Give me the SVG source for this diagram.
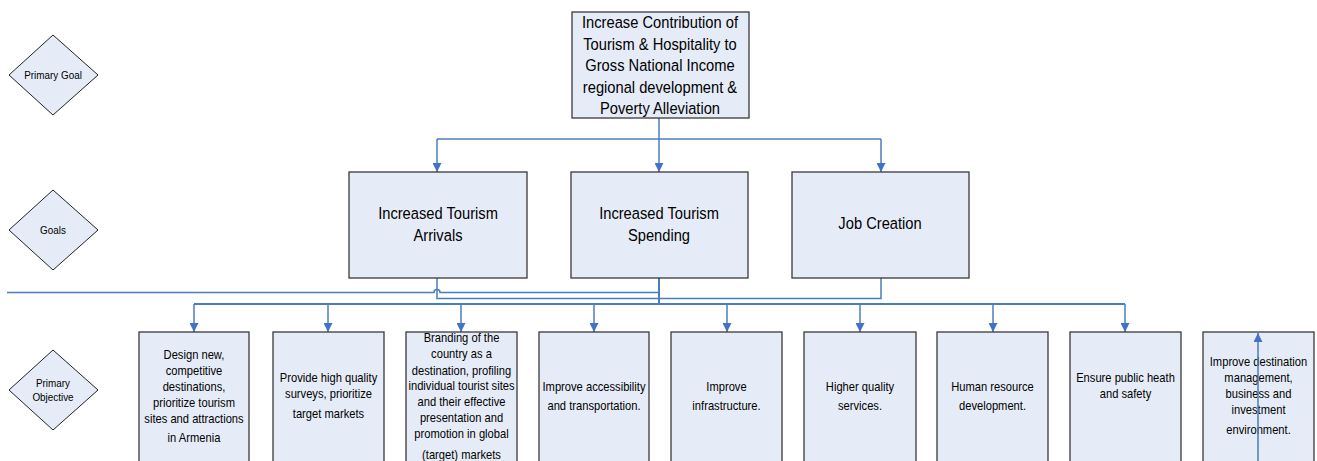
<svg xmlns="http://www.w3.org/2000/svg" width="1317" height="461" viewBox="0 0 1317 461">
<style>
.box{fill:#E6ECF7;stroke:#3a3a3a;stroke-width:1.3}
.dia{fill:#E6ECF7;stroke:#222;stroke-width:1}
.t{font-family:"Liberation Sans",Arial,sans-serif;fill:#000;text-anchor:middle}
.big{font-size:17px}
.sm{font-size:13px}
.dt{font-size:11.5px}
.c{fill:none;stroke:#4A7EBB;stroke-width:1.5}
.c2{fill:none;stroke:#4A7EBB;stroke-width:2}
.c1{fill:none;stroke:#4A7EBB;stroke-width:1.5}
</style>
<defs>
<marker id="arr" viewBox="0 0 10 10" refX="10" refY="5" markerWidth="10" markerHeight="9" orient="auto" markerUnits="userSpaceOnUse">
<path d="M0,0 L10,5 L0,10 z" fill="#4472C4"/>
</marker>
</defs>
<rect width="1317" height="461" fill="#fff"/>

<g id="lane-primary-goal">
<polygon class="dia" points="53,35 98,75 53,115 9,75"/>
<text class="t dt" transform="translate(53,0) scale(0.86,1)"><tspan x="0" y="79">Primary Goal</tspan></text>
</g>
<g id="lane-goals">
<polygon class="dia" points="53,190 98,230 53,270 9,230"/>
<text class="t dt" transform="translate(53,0) scale(0.86,1)"><tspan x="0" y="234">Goals</tspan></text>
</g>
<g id="lane-primary-objective">
<polygon class="dia" points="53,350 98,390 53,430 9,390"/>
<text class="t dt" transform="translate(53,0) scale(0.86,1)"><tspan x="0" y="387">Primary</tspan><tspan x="0" y="401">Objective</tspan></text>
</g>

<g id="connectors">
<path class="c" d="M659,118 V139"/>
<path class="c" d="M437,139 H881"/>
<path class="c" d="M437,139 V172" marker-end="url(#arr)"/>
<path class="c" d="M659,139 V172" marker-end="url(#arr)"/>
<path class="c" d="M881,139 V172" marker-end="url(#arr)"/>
<path class="c1" d="M7,292.5 H434 A3,3 0 0 1 440,292.5 H659"/>
<path class="c1" d="M437,278 V298.5 H881 V278"/>
<path class="c2" d="M659,278 V304"/>
<path class="c2" d="M194,304 H1125"/>
<path class="c" d="M194,304 V332" marker-end="url(#arr)"/>
<path class="c" d="M328,304 V332" marker-end="url(#arr)"/>
<path class="c" d="M461,304 V332" marker-end="url(#arr)"/>
<path class="c" d="M594,304 V332" marker-end="url(#arr)"/>
<path class="c" d="M727,304 V332" marker-end="url(#arr)"/>
<path class="c" d="M860,304 V332" marker-end="url(#arr)"/>
<path class="c" d="M993,304 V332" marker-end="url(#arr)"/>
<path class="c" d="M1125,304 V332" marker-end="url(#arr)"/>
</g>

<g id="node-primary-goal">
<rect class="box" x="572" y="12" width="177" height="106"/>
<text class="t big" transform="translate(660,0) scale(0.865,1)"><tspan x="0" y="28">Increase Contribution of</tspan><tspan x="0" y="50">Tourism &amp; Hospitality to</tspan><tspan x="0" y="71.5">Gross National Income</tspan><tspan x="0" y="93">regional development &amp;</tspan><tspan x="0" y="114">Poverty Alleviation</tspan></text>
</g>

<g id="node-arrivals">
<rect class="box" x="349" y="172" width="178" height="106"/>
<text class="t big" transform="translate(438,0) scale(0.865,1)"><tspan x="0" y="219">Increased Tourism</tspan><tspan x="0" y="241">Arrivals</tspan></text>
</g>
<g id="node-spending">
<rect class="box" x="571" y="172" width="177" height="106"/>
<text class="t big" transform="translate(659,0) scale(0.865,1)"><tspan x="0" y="219">Increased Tourism</tspan><tspan x="0" y="241">Spending</tspan></text>
</g>
<g id="node-jobs">
<rect class="box" x="792" y="172" width="177" height="106"/>
<text class="t big" transform="translate(880,0) scale(0.865,1)"><tspan x="0" y="229">Job Creation</tspan></text>
</g>

<g id="obj-1">
<rect class="box" x="139" y="332" width="110" height="140"/>
<text class="t sm" transform="translate(194,0) scale(0.86,1)"><tspan x="0" y="359">Design new,</tspan><tspan x="0" y="375">competitive</tspan><tspan x="0" y="391">destinations,</tspan><tspan x="0" y="407">prioritize tourism</tspan><tspan x="0" y="423">sites and attractions</tspan><tspan x="0" y="442">in Armenia</tspan></text>
</g>
<g id="obj-2">
<rect class="box" x="273" y="332" width="111" height="140"/>
<text class="t sm" transform="translate(328.5,0) scale(0.86,1)"><tspan x="0" y="382">Provide high quality</tspan><tspan x="0" y="398">surveys, prioritize</tspan><tspan x="0" y="418">target markets</tspan></text>
</g>
<g id="obj-3">
<rect class="box" x="406" y="332" width="111" height="140"/>
<text class="t sm" transform="translate(461.5,0) scale(0.86,1)"><tspan x="0" y="342.5">Branding of the</tspan><tspan x="0" y="358.5">country as a</tspan><tspan x="0" y="375">destination, profiling</tspan><tspan x="0" y="390.5">individual tourist sites</tspan><tspan x="0" y="406.5">and their effective</tspan><tspan x="0" y="422.5">presentation and</tspan><tspan x="0" y="438.5">promotion in global</tspan><tspan x="0" y="459">(target) markets</tspan></text>
</g>
<g id="obj-4">
<rect class="box" x="539" y="332" width="110" height="140"/>
<text class="t sm" transform="translate(594,0) scale(0.86,1)"><tspan x="0" y="391">Improve accessibility</tspan><tspan x="0" y="410">and transportation.</tspan></text>
</g>
<g id="obj-5">
<rect class="box" x="671" y="332" width="111" height="140"/>
<text class="t sm" transform="translate(726.5,0) scale(0.86,1)"><tspan x="0" y="391">Improve</tspan><tspan x="0" y="410">infrastructure.</tspan></text>
</g>
<g id="obj-6">
<rect class="box" x="804" y="332" width="112" height="140"/>
<text class="t sm" transform="translate(860,0) scale(0.86,1)"><tspan x="0" y="391">Higher quality</tspan><tspan x="0" y="410">services.</tspan></text>
</g>
<g id="obj-7">
<rect class="box" x="937" y="332" width="111" height="140"/>
<text class="t sm" transform="translate(992.5,0) scale(0.86,1)"><tspan x="0" y="391">Human resource</tspan><tspan x="0" y="410">development.</tspan></text>
</g>
<g id="obj-8">
<rect class="box" x="1070" y="332" width="111" height="140"/>
<text class="t sm" transform="translate(1125.5,0) scale(0.86,1)"><tspan x="0" y="382">Ensure public heath</tspan><tspan x="0" y="398">and safety</tspan></text>
</g>
<g id="obj-9">
<rect class="box" x="1203" y="332" width="111" height="140"/>
<text class="t sm" transform="translate(1258.5,0) scale(0.86,1)"><tspan x="0" y="366">Improve destination</tspan><tspan x="0" y="382">management,</tspan><tspan x="0" y="398">business and</tspan><tspan x="0" y="414">investment</tspan><tspan x="0" y="434">environment.</tspan></text>
<path class="c" d="M1258,461 V333" marker-end="url(#arr)"/>
</g>
</svg>
